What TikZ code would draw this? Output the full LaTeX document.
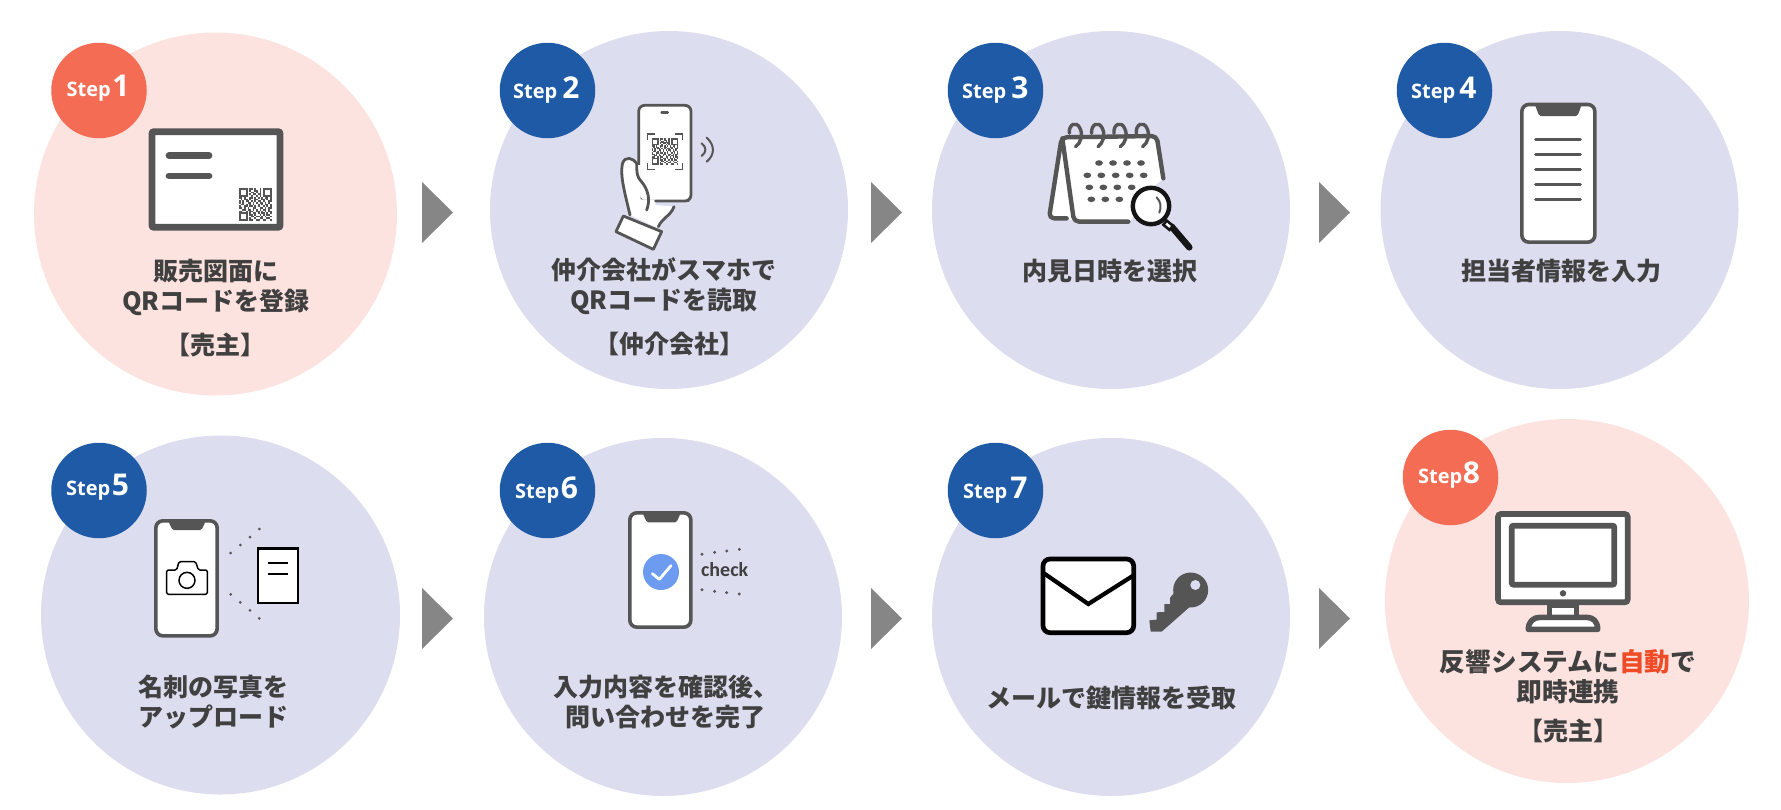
\documentclass[tikz,border=0pt]{standalone}
\usepackage{fontspec}
\newfontfamily\cjk{Noto Sans CJK JP}
\newfontfamily\stepf{Open Sans}
\newfontfamily\chkf{Carlito}
\definecolor{pinkbg}{HTML}{FDE3DF}
\definecolor{lavbg}{HTML}{DDDDF0}
\definecolor{orangeb}{HTML}{F46C53}
\definecolor{blueb}{HTML}{1F5AA6}
\definecolor{txt}{HTML}{404040}
\definecolor{icon}{HTML}{555555}
\definecolor{arrowg}{HTML}{868686}
\definecolor{redtxt}{HTML}{EE4B26}
\definecolor{checkblue}{HTML}{6C9BF0}
\tikzset{
  big/.style={circle,inner sep=0pt,minimum size=#1,draw=none},
  badge/.style={circle,inner sep=0pt,minimum size=95.5pt,draw=none},
  steplabel/.style={anchor=base west,inner sep=0pt,text=white,font=\stepf\bfseries\fontsize{20}{20}\selectfont},
  lab/.style={align=center,inner sep=0pt,text=txt,font=\cjk\bfseries\fontsize{25}{30}\selectfont},
  labwide/.style={lab,font=\cjk\bfseries\fontsize{25.7}{30}\selectfont},
  zoomed/.style n args={2}{shift={(#1,#2)},x=0.33333pt,y=-0.33333pt},
  phonebody/.style={draw=icon,fill=white,line width=3.6pt,rounded corners=7pt},
  dotc/.style={fill=icon},
}
\newcommand\badgeat[7]{%
  \node[badge,fill=#2] (s#1) at (#3,#4) {};
  \node[steplabel] (t#1) at (#5,#6) {Step\kern#7pt{\fontsize{30}{30}\selectfont #1}};}
\newcommand\arrowtri[2]{\fill[arrowg] (#1,#2) -- (#1+31,#2+30.5) -- (#1,#2+61) -- cycle;}
% x0 y0 x1 y1 notch-left notch-right notch-bottom: all in current units
\newcommand\phoneicon[7]{%
  \draw[phonebody] (#1+5.5,#2+5.5) rectangle (#3-5.5,#4-5.5);
  \fill[icon] (#5,#2+5) .. controls (#5+8,#2+8) and (#5+10,#7) .. (#5+20,#7) -- (#6-20,#7) .. controls (#6-10,#7) and (#6-8,#2+8) .. (#6,#2+5) -- cycle;}
\newcommand\qrrow[2]{\foreach \a in {#2} \fill[icon] (\a,#1) rectangle +(1.02,1.02);}
\newcommand\qrcode[3]{%
  \begin{scope}[shift={(#1,#2)},x=#3/19*1pt,y=-#3/19*1pt]
    \draw[icon,line width=#3/19*1pt] (0.5,0.5) rectangle (4.5,4.5) (14.5,0.5) rectangle (18.5,4.5) (0.5,14.5) rectangle (4.5,18.5);
    \qrrow{0}{6,7,9,12}\qrrow{1}{6,9,10,12}\qrrow{2}{7,8,10,12}\qrrow{3}{6,8,9,11,12}\qrrow{4}{7,10,12}
    \qrrow{5}{0,1,3,6,7,9,11,13,15,16,18}\qrrow{6}{1,3,4,6,9,10,13,14,16,18}\qrrow{7}{0,2,4,5,7,9,11,12,14,17,18}
    \qrrow{8}{0,2,5,6,8,10,12,13,15,17}\qrrow{9}{1,2,4,6,8,11,13,15,16,18}\qrrow{10}{0,3,4,6,7,9,11,14,16,18}
    \qrrow{11}{0,1,3,5,8,9,12,13,15,17,18}\qrrow{12}{2,3,5,6,8,10,12,14,15,17}\qrrow{13}{0,1,4,6,7,10,11,13,15,17,18}
    \qrrow{14}{6,8,9,11,13,14,16,18}\qrrow{15}{6,7,9,12,14,16,17}\qrrow{16}{7,8,10,11,13,15,18}
    \qrrow{17}{6,9,12,13,16,17}\qrrow{18}{6,7,10,11,14,15,18}
  \end{scope}}
\begin{document}
\begin{tikzpicture}[x=1pt,y=-1pt]
\useasboundingbox (0,0) rectangle (1781,809);
\fill[white] (0,0) rectangle (1781,809);
% big circles
\node[big=363pt,fill=pinkbg] (c1) at (215.5,214) {};
\node[big=358pt,fill=lavbg] (c2) at (669,210) {};
\node[big=358pt,fill=lavbg] (c3) at (1111,210) {};
\node[big=358pt,fill=lavbg] (c4) at (1559.5,210) {};
\node[big=359pt,fill=lavbg] (c5) at (220.5,615) {};
\node[big=358pt,fill=lavbg] (c6) at (663,617) {};
\node[big=358pt,fill=lavbg] (c7) at (1111,617) {};
\node[big=364pt,fill=pinkbg] (c8) at (1567,601) {};
% badges
\badgeat{1}{orangeb}{99}{90.5}{66.5}{96}{1.5}
\badgeat{2}{blueb}{547.5}{90.5}{513}{98}{5}
\badgeat{3}{blueb}{995.5}{90.5}{962}{98}{5}
\badgeat{4}{blueb}{1444.5}{90.5}{1411}{98}{4}
\badgeat{5}{blueb}{99}{490.5}{66}{495}{1.5}
\badgeat{6}{blueb}{547.5}{490.5}{515}{498}{1.5}
\badgeat{7}{blueb}{995.5}{490.5}{963}{498}{3}
\badgeat{8}{orangeb}{1450.5}{477.5}{1418}{483}{0.5}
% arrows
\arrowtri{422}{182}\arrowtri{871}{182}\arrowtri{1319}{182}
\arrowtri{422}{588}\arrowtri{871}{588}\arrowtri{1319}{588}
% labels
\node[lab] (l1) at (216,287) {販売図面に\\QRコードを登録};
\node[lab] (r1) at (215,345) {【売主】};
\node[lab] (l2) at (664,286) {仲介会社がスマホで\\QRコードを読取};
\node[lab] (r2) at (669,344) {【仲介会社】};
\node[lab] (l3) at (1110,271) {内見日時を選択};
\node[lab] (l4) at (1561,271) {担当者情報を入力};
\node[lab] (l5) at (213,702) {名刺の写真を\\アップロード};
\node[lab] (l6) at (665.5,702) {入力内容を確認後、\\問い合わせを完了};
\node[lab] (l7) at (1111,698) {メールで鍵情報を受取};
\node[labwide] (l8) at (1568,677) {反響システムに\textcolor{redtxt}{自動}で\\即時連携};
\node[lab] (r8) at (1568,730.5) {【売主】};
% ---- icon 1
\begin{scope}[zoomed={20}{20}]
  \draw[draw=icon,fill=white,line width=6.8pt,rounded corners=2pt] (396,335) rectangle (780,622);
  \draw[icon,line width=6.8pt,line cap=round] (447,407) -- (567,407) (447,468) -- (567,468);
\end{scope}
\qrcode{239}{188.3}{32.5}
% ---- icon 2
\begin{scope}[zoomed={480}{30}]
  \draw[draw=icon,fill=white,line width=2.8pt,rounded corners=6pt] (476,226) rectangle (633,513);
  \draw[icon,line width=2.8pt,line cap=round] (545,247) -- (563,247);
  \draw[icon,line width=1.6pt] (502,330) -- (502,312) -- (525,312) (584,312) -- (607,312) -- (607,330)
        (607,400) -- (607,418) -- (584,418) (525,418) -- (502,418) -- (502,400);
  \draw[icon,line width=2pt,line cap=round] (665,340) .. controls (680,352) and (680,366) .. (665,378);
  \draw[icon,line width=2pt,line cap=round] (680,323) .. controls (705,345) and (705,375) .. (680,395);
  \fill[white] (473,405) .. controls (460,385) and (435,375) .. (427,402) .. controls (420,440) and (435,490) .. (450,555)
     -- (535,595) -- (582,530) -- (526,525) -- (526,508) -- (482,508) -- (482,405) -- cycle;
  \draw[icon,line width=2.8pt,line cap=round] (470,400) .. controls (460,385) and (435,375) .. (427,402) .. controls (420,440) and (435,490) .. (450,555);
  \draw[icon,line width=2.8pt,line cap=round] (470,400) .. controls (470,430) and (472,442) .. (482,452) .. controls (505,478) and (512,510) .. (500,540);
  \draw[icon,line width=2.8pt,line cap=round] (582,530) .. controls (572,558) and (548,562) .. (535,590);
  \draw[icon,line width=2.8pt,line cap=round] (526,513) -- (625,513);
  \draw[draw=icon,fill=white,line width=2.8pt,line join=round] (430,558) -- (545,605) -- (520,658) -- (408,605) -- cycle;
\end{scope}
\qrcode{651.7}{138.3}{26.5}
% ---- icon 3
\begin{scope}[zoomed={930}{30}]
  \fill[white] (395,330) -- (358,565) -- (430,570) -- cycle;
  \fill[white] (400,320) -- (680,320) -- (700,445) -- (660,480) -- (600,575) -- (430,575) -- cycle;
  \draw[icon,line width=4.4pt,line cap=round,line join=round,rounded corners=5pt] (410,565) -- (357,565) -- (395,322) -- (680,318) -- (700,445);
  \draw[icon,line width=4.4pt,line cap=round,line join=round,rounded corners=5pt] (397,325) -- (432,575) -- (595,575);
  \foreach \a in {0,67,134,201}
    \draw[icon,line width=3.4pt,line cap=round] (418+\a,310) .. controls (415+\a,282) and (440+\a,272) .. (450+\a,295) .. controls (460+\a,315) and (452+\a,340) .. (437+\a,350);
  \foreach \a/\b in {507/399,549/399,591/399,633/399,472/436,514/436,557/436,599/436,641/436,478/472,520/472,562/472,605/472,484/508,526/508,568/508}
    \fill[icon] (\a,\b) ellipse [x radius=3.9pt,y radius=2.8pt];
  \draw[draw=black!75!icon,line width=6.5pt,line cap=round] (725,590) -- (778,652);
  \draw[draw=black!75!icon,fill=white,line width=2.6pt,rotate around={-40:(715,585)}] (703,578) rectangle (727,594);
  \draw[draw=black!75!icon,fill=white,line width=4.4pt] (663,528) circle [radius=18.2pt];
  \draw[icon,line width=2pt,line cap=round] (680,502) .. controls (692,515) and (695,530) .. (688,548);
\end{scope}
% ---- icon 4
\begin{scope}[zoomed={1380}{30}]
  \phoneicon{420}{218}{650}{642}{462}{608}{258}
  \draw[icon,line width=3.2pt,line cap=round] (467,329) -- (601,329) (467,374) -- (601,374) (467,419) -- (601,419) (467,464) -- (601,464) (467,509) -- (601,509);
\end{scope}
% ---- icon 5
\begin{scope}[zoomed={30}{430}]
  \phoneicon{372}{267}{567}{623}{412}{530}{300}
  \draw[black,line width=1.5pt,line join=round,rounded corners=1.5pt] (410,493) -- (410,420) -- (440,420) -- (447,395) -- (497,395) -- (505,420) -- (532,420) -- (532,493) -- cycle;
  \draw[black,line width=1.5pt] (471,451) circle [radius=8pt];
  \draw[draw=black,fill=white,line width=2.4pt] (684,356) rectangle (804,519);
  \draw[black,line width=1.9pt] (715,398) -- (773,398) (715,433) -- (773,433);
  \foreach \a/\b in {602/369,631/345,660/321,688/297,602/493,631/517,660/541,688/565}
    \fill[dotc] (\a,\b) circle [radius=1.5pt];
\end{scope}
% ---- icon 6
\begin{scope}[zoomed={490}{430}]
  \phoneicon{414}{243}{608}{597}{455}{575}{277}
  \fill[checkblue] (513,426) circle [radius=18pt];
  \draw[white,line width=2.8pt,line cap=round,line join=round] (487,431) -- (508,448) -- (543,407);
  \foreach \a/\b in {636/373,674/367,710/363,748/358,636/479,674/484,710/488,748/492}
    \fill[dotc] (\a,\b) circle [radius=1.6pt];
  \node[inner sep=0pt,text=txt,font=\chkf\bfseries\fontsize{20}{20}\selectfont] (chk) at (704,420) {check};
\end{scope}
% ---- icon 7
\begin{scope}[zoomed={940}{430}]
  \draw[draw=black,fill=white,line width=4.7pt,rounded corners=7pt] (309,387) rectangle (581,608);
  \draw[black,line width=4.2pt,line join=miter] (309,428) -- (445,522) -- (581,436);
  \fill[icon] (628,571) -- (650,569) -- (650,547) -- (673,546) -- (673,522) -- (690,522) -- (690,503) -- (712,478) -- (750,530) -- (665,605) -- (632,605) -- cycle;
  \fill[icon] (752,480) circle [radius=17.5pt];
  \fill[lavbg] (766,465) circle [radius=5pt];
\end{scope}
% ---- icon 8
\begin{scope}[zoomed={1390}{420}]
  \draw[draw=icon,fill=white,line width=5.6pt,line join=round] (478,556) rectangle (560,595);
  \draw[draw=icon,fill=white,line width=5.6pt,line join=round] (415,628) .. controls (415,605) and (430,592) .. (450,592) -- (590,592) .. controls (610,592) and (623,605) .. (623,628) -- cycle;
  \draw[draw=icon,fill=white,line width=5.8pt,rounded corners=3pt] (324,282) rectangle (713,547);
  \draw[draw=icon,fill=white,line width=5.8pt,rounded corners=2pt] (365,317) rectangle (673,494);
  \fill[icon] (519,520) circle [radius=3.2pt];
\end{scope}
\end{tikzpicture}
\end{document}
